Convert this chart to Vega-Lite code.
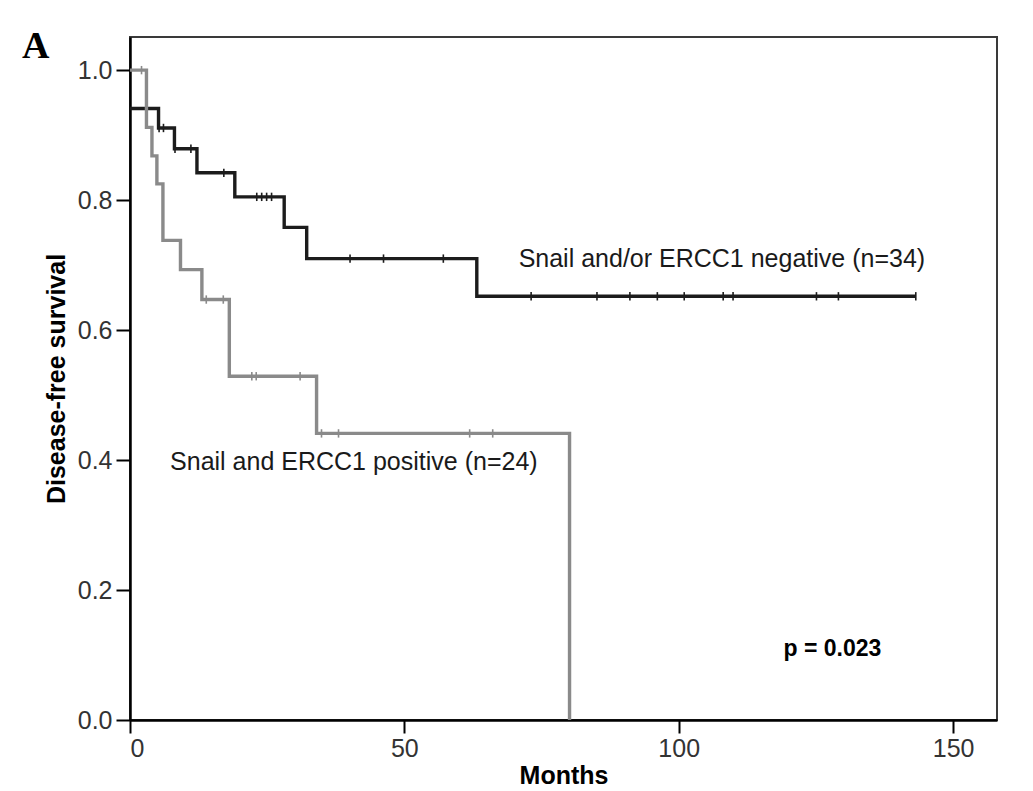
{
  "$schema": "https://vega.github.io/schema/vega-lite/v6.json",
  "width": 867,
  "height": 683,
  "autosize": {"type": "none"},
  "padding": {"left": 130, "top": 37, "right": 36, "bottom": 71},
  "background": "white",
  "config": {
    "view": {"stroke": "#3a3a3a", "strokeWidth": 2},
    "font": "Liberation Sans"
  },
  "title": {
    "text": "A",
    "anchor": "start",
    "frame": "group",
    "font": "Liberation Serif",
    "fontSize": 38,
    "fontWeight": "bold",
    "color": "#000000",
    "offset": 0,
    "baseline": "alphabetic",
    "dx": -108,
    "dy": 59
  },
  "datasets": {
    "steps": [
      {"group": "neg", "month": 0, "surv": 0.941},
      {"group": "neg", "month": 5.2, "surv": 0.911},
      {"group": "neg", "month": 8.1, "surv": 0.879},
      {"group": "neg", "month": 12.2, "surv": 0.842},
      {"group": "neg", "month": 19.1, "surv": 0.805},
      {"group": "neg", "month": 28.1, "surv": 0.758},
      {"group": "neg", "month": 32.2, "surv": 0.710},
      {"group": "neg", "month": 63.2, "surv": 0.652},
      {"group": "neg", "month": 143.2, "surv": 0.652},
      {"group": "pos", "month": 0, "surv": 1.0},
      {"group": "pos", "month": 3.0, "surv": 0.912},
      {"group": "pos", "month": 4.0, "surv": 0.868},
      {"group": "pos", "month": 4.9, "surv": 0.825},
      {"group": "pos", "month": 6.0, "surv": 0.738},
      {"group": "pos", "month": 9.2, "surv": 0.693},
      {"group": "pos", "month": 13.1, "surv": 0.647},
      {"group": "pos", "month": 18.1, "surv": 0.529},
      {"group": "pos", "month": 34.0, "surv": 0.441},
      {"group": "pos", "month": 80.1, "surv": 0.0}
    ],
    "censors": [
      {"group": "neg", "month": 5.3, "surv": 0.911},
      {"group": "neg", "month": 6.1, "surv": 0.911},
      {"group": "neg", "month": 8.2, "surv": 0.879},
      {"group": "neg", "month": 11.1, "surv": 0.879},
      {"group": "neg", "month": 17.1, "surv": 0.842},
      {"group": "neg", "month": 23.1, "surv": 0.805},
      {"group": "neg", "month": 24.0, "surv": 0.805},
      {"group": "neg", "month": 24.9, "surv": 0.805},
      {"group": "neg", "month": 25.8, "surv": 0.805},
      {"group": "neg", "month": 40.1, "surv": 0.710},
      {"group": "neg", "month": 46.2, "surv": 0.710},
      {"group": "neg", "month": 57.1, "surv": 0.710},
      {"group": "neg", "month": 73.1, "surv": 0.652},
      {"group": "neg", "month": 85.1, "surv": 0.652},
      {"group": "neg", "month": 91.1, "surv": 0.652},
      {"group": "neg", "month": 96.1, "surv": 0.652},
      {"group": "neg", "month": 101.0, "surv": 0.652},
      {"group": "neg", "month": 108.1, "surv": 0.652},
      {"group": "neg", "month": 109.9, "surv": 0.652},
      {"group": "neg", "month": 125.1, "surv": 0.652},
      {"group": "neg", "month": 129.1, "surv": 0.652},
      {"group": "neg", "month": 143.2, "surv": 0.652},
      {"group": "pos", "month": 2.1, "surv": 1.0},
      {"group": "pos", "month": 13.9, "surv": 0.647},
      {"group": "pos", "month": 17.0, "surv": 0.647},
      {"group": "pos", "month": 22.2, "surv": 0.529},
      {"group": "pos", "month": 23.0, "surv": 0.529},
      {"group": "pos", "month": 31.0, "surv": 0.529},
      {"group": "pos", "month": 34.9, "surv": 0.441},
      {"group": "pos", "month": 38.0, "surv": 0.441},
      {"group": "pos", "month": 61.9, "surv": 0.441},
      {"group": "pos", "month": 66.1, "surv": 0.441}
    ]
  },
  "layer": [
    {
      "data": {"name": "steps"},
      "mark": {"type": "line", "interpolate": "step-after", "strokeWidth": 3.4},
      "encoding": {
        "x": {
          "field": "month",
          "type": "quantitative",
          "scale": {"domain": [0, 158], "nice": false, "zero": false},
          "axis": {
            "title": "Months",
            "values": [0, 50, 100, 150],
            "grid": false,
            "domainColor": "#000000",
            "domainWidth": 2.5,
            "tickColor": "#000000",
            "tickWidth": 2,
            "tickSize": 13,
            "labelFontSize": 25,
            "labelColor": "#333333",
            "labelPadding": 3,
            "labelFont": "Liberation Sans",
            "titleFont": "Liberation Sans",
            "titleFontSize": 25,
            "titleFontWeight": "bold",
            "titleColor": "#000000",
            "titlePadding": 2
          }
        },
        "y": {
          "field": "surv",
          "type": "quantitative",
          "scale": {"domain": [0, 1.051], "nice": false, "zero": false},
          "axis": {
            "title": "Disease-free survival",
            "values": [0, 0.2, 0.4, 0.6, 0.8, 1.0],
            "format": ".1f",
            "grid": false,
            "domainColor": "#000000",
            "domainWidth": 2.5,
            "tickColor": "#000000",
            "tickWidth": 2,
            "tickSize": 14,
            "labelFontSize": 25,
            "labelColor": "#333333",
            "labelPadding": 4,
            "labelFont": "Liberation Sans",
            "titleFont": "Liberation Sans",
            "titleFontSize": 25,
            "titleFontWeight": "bold",
            "titleColor": "#000000",
            "titlePadding": 8
          }
        },
        "color": {
          "field": "group",
          "type": "nominal",
          "scale": {"domain": ["neg", "pos"], "range": ["#1c1c1c", "#8a8a8a"]},
          "legend": null
        }
      }
    },
    {
      "data": {"name": "censors"},
      "mark": {"type": "point", "shape": "M0,-1L0,1", "filled": false, "strokeWidth": 1.6, "size": 70, "opacity": 1},
      "encoding": {
        "x": {"field": "month", "type": "quantitative"},
        "y": {"field": "surv", "type": "quantitative"},
        "color": {
          "field": "group",
          "type": "nominal",
          "scale": {"domain": ["neg", "pos"], "range": ["#1c1c1c", "#8a8a8a"]},
          "legend": null
        }
      }
    },
    {
      "data": {"values": [{"label": "Snail and/or ERCC1 negative (n=34)", "month": 144.9, "surv": 0.697}]},
      "mark": {"type": "text", "align": "right", "baseline": "alphabetic", "fontSize": 25, "font": "Liberation Sans", "color": "#1a1a1a"},
      "encoding": {
        "x": {"field": "month", "type": "quantitative"},
        "y": {"field": "surv", "type": "quantitative"},
        "text": {"field": "label"}
      }
    },
    {
      "data": {"values": [{"label": "Snail and ERCC1 positive (n=24)", "month": 7.3, "surv": 0.384}]},
      "mark": {"type": "text", "align": "left", "baseline": "alphabetic", "fontSize": 25, "font": "Liberation Sans", "color": "#1a1a1a"},
      "encoding": {
        "x": {"field": "month", "type": "quantitative"},
        "y": {"field": "surv", "type": "quantitative"},
        "text": {"field": "label"}
      }
    },
    {
      "data": {"values": [{"label": "p = 0.023", "month": 128, "surv": 0.11}]},
      "mark": {"type": "text", "align": "center", "baseline": "middle", "fontSize": 23, "fontWeight": "bold", "font": "Liberation Sans", "color": "#000000"},
      "encoding": {
        "x": {"field": "month", "type": "quantitative"},
        "y": {"field": "surv", "type": "quantitative"},
        "text": {"field": "label"}
      }
    }
  ]
}
